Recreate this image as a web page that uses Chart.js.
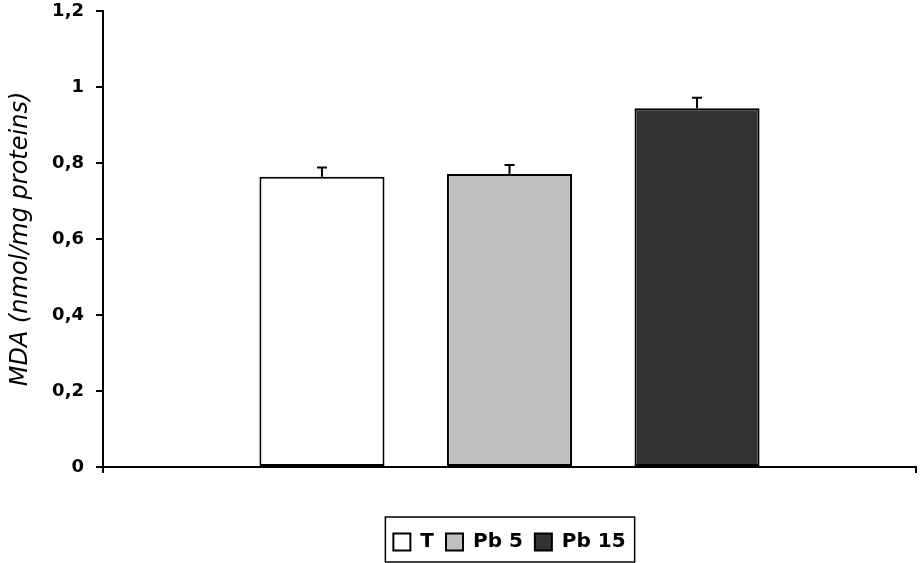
<!DOCTYPE html>
<html lang="en">
<head>
  <meta charset="UTF-8" />
  <title>MDA</title>
  <script src="https://cdn.jsdelivr.net/npm/chart.js"></script>
  <style>
    body {
      margin: 0;
      background-color: #fff;
    }
    .chart-wrap {
      width: 920px;
      height: 563px;
    }
  </style>
</head>
<body>
  <div class="chart-wrap">
    <canvas id="mdaChart"></canvas>
  </div>

  <script>
    const groups = ["T", "Pb 5", "Pb 15"];
    const mdaMeans = [0.764, 0.771, 0.944];
    const mdaErrors = [0.024, 0.024, 0.028];
    const barColors = ["#ffffff", "#c0c0c0", "#333333"];
    const yTickLabels = ["0", "0,2", "0,4", "0,6", "0,8", "1", "1,2"];

    // error bars on top of each bar
    const errorBars = {
      id: "errorBars",
      afterDatasetsDraw(chart) {
        const ctx = chart.ctx;
        const yScale = chart.scales.y;
        ctx.save();
        ctx.strokeStyle = "#000";
        ctx.lineWidth = 2;
        chart.data.datasets.forEach((ds, i) => {
          const meta = chart.getDatasetMeta(i);
          meta.data.forEach((bar, j) => {
            const top = yScale.getPixelForValue(ds.data[j] + ds.errors[j]);
            ctx.beginPath();
            ctx.moveTo(bar.x, bar.y);
            ctx.lineTo(bar.x, top);
            ctx.moveTo(bar.x - 5, top);
            ctx.lineTo(bar.x + 5, top);
            ctx.stroke();
          });
        });
        ctx.restore();
      }
    };

    // center the legend under the plot and draw a frame round it
    const legendFrame = {
      id: "legendFrame",
      afterLayout(chart) {
        chart.legend.left = chart.chartArea.left;
        chart.legend.right = chart.chartArea.right;
      },
      afterDraw(chart) {
        const boxes = chart.legend.legendHitBoxes;
        if (!boxes || !boxes.length) return;
        const left = Math.min(...boxes.map(b => b.left)) - 8;
        const right = Math.max(...boxes.map(b => b.left + b.width)) + 9;
        const top = Math.min(...boxes.map(b => b.top)) - 15;
        const bottom = Math.max(...boxes.map(b => b.top + b.height)) + 10;
        const ctx = chart.ctx;
        ctx.save();
        ctx.strokeStyle = "#000";
        ctx.lineWidth = 1.5;
        ctx.strokeRect(left, top, right - left, bottom - top);
        ctx.restore();
      }
    };

    new Chart(document.getElementById("mdaChart"), {
      type: "bar",
      data: {
        labels: [""],
        datasets: groups.map((g, i) => ({
          label: g,
          data: [mdaMeans[i]],
          errors: [mdaErrors[i]],
          backgroundColor: barColors[i],
          borderColor: "#000",
          borderWidth: 2,
          borderSkipped: false,
          categoryPercentage: 0.692,
          barPercentage: 0.667
        }))
      },
      options: {
        responsive: true,
        maintainAspectRatio: false,
        animation: false,
        layout: {
          padding: { top: 11, right: 4, bottom: 1, left: 0 }
        },
        plugins: {
          tooltip: { enabled: false },
          legend: {
            position: "bottom",
            labels: {
              color: "#000",
              boxWidth: 17,
              boxHeight: 17,
              padding: 12,
              font: { family: "DejaVu Sans", size: 20, weight: "bold" }
            }
          }
        },
        scales: {
          x: {
            afterFit(scale) { scale.height = 53; },
            grid: {
              display: true,
              drawOnChartArea: false,
              drawTicks: true,
              tickLength: 6,
              color: "#000",
              lineWidth: 2
            },
            border: { display: true, color: "#000", width: 2 },
            ticks: { display: false }
          },
          y: {
            min: 0,
            max: 1.2,
            afterFit(scale) {
              scale.width = 103;
              scale.paddingTop = 0;
              scale.paddingBottom = 0;
            },
            grid: {
              display: true,
              drawOnChartArea: false,
              drawTicks: true,
              tickLength: 7,
              color: "#000",
              lineWidth: 2
            },
            border: { display: true, color: "#000", width: 2 },
            ticks: {
              stepSize: 0.2,
              padding: 12,
              color: "#000",
              font: { family: "DejaVu Sans", size: 18, weight: "bold" },
              callback: (v, i) => yTickLabels[i]
            },
            title: {
              display: true,
              text: "MDA (nmol/mg proteins)",
              color: "#000",
              padding: { top: 6, bottom: 0 },
              font: { family: "DejaVu Sans", size: 24, style: "italic" }
            }
          }
        }
      },
      plugins: [errorBars, legendFrame]
    });
  </script>
</body>
</html>
